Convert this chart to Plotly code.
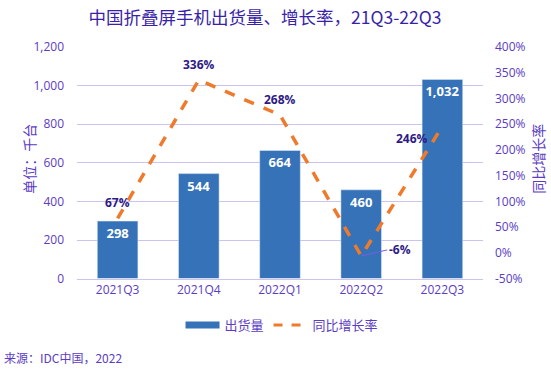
import plotly.graph_objects as go

quarters = ["2021Q3", "2021Q4", "2022Q1", "2022Q2", "2022Q3"]
shipments = [298, 544, 664, 460, 1032]
growth = [67, 336, 268, -6, 246]
growth_labels = ["67%", "336%", "268%", "-6%", "246%"]
left_ticks = [0, 200, 400, 600, 800, 1000, 1200]
right_ticks = [-50, 0, 50, 100, 150, 200, 250, 300, 350, 400]
right_tick_text = ["-50%", "0%", "50%", "100%", "150%", "200%", "250%", "300%", "350%", "400%"]

TICK = "#5B3CC4"
LABEL = "#2E1A87"
GRID = "#CBC3F2"
BLUE = "#3672B8"
ORANGE = "#F07A2B"
FONT = "Open Sans, Noto Sans CJK SC, sans-serif"
CJK = "Noto Sans CJK SC, sans-serif"

PL, PR, PT, PB = 77, 483, 47, 281  # plot area in pixels
def px_x(p):
    return (p - PL) / (PR - PL)
def px_y(p):
    return (PB - p) / (PB - PT)

fig = go.Figure()
fig.add_trace(go.Bar(
    x=quarters, y=shipments, name="出货量", showlegend=False,
    marker=dict(color=BLUE),
    text=[f"{v:,}" for v in shipments], textposition="inside",
    insidetextanchor="end",
    textfont=dict(color="white", size=13, family=FONT, weight="bold"),
))
fig.add_trace(go.Scatter(
    x=quarters, y=growth, name="同比增长率", yaxis="y2", mode="lines",
    line=dict(color=ORANGE, width=3.5, dash="dash"), showlegend=False,
))
# legend-only entries
fig.add_trace(go.Scatter(x=[None], y=[None], name="出货量", mode="lines",
                         line=dict(color=BLUE, width=7)))
fig.add_trace(go.Scatter(x=[None], y=[None], name="同比增长率", mode="lines",
                         line=dict(color=ORANGE, width=3, dash="dash")))

shifts = [(0, 16), (0, 15), (0, 15), None, (-30, -12)]
for q, g, lab, s in zip(quarters, growth, growth_labels, shifts):
    if s is None:
        fig.add_annotation(x=q, y=g, xref="x", yref="y2", text=lab,
                           showarrow=True, arrowhead=0, arrowwidth=1,
                           arrowcolor="#7A5CE0", ax=26, ay=-6,
                           xanchor="left", yanchor="middle",
                           font=dict(color=LABEL, size=12, family=FONT, weight="bold"))
    else:
        fig.add_annotation(x=q, y=g, xref="x", yref="y2", text=lab,
                           showarrow=False, xshift=s[0], yshift=s[1],
                           font=dict(color=LABEL, size=12, family=FONT, weight="bold"))

fig.update_layout(
    width=551, height=378,
    margin=dict(l=PL, r=551 - PR, t=PT, b=378 - PB),
    paper_bgcolor="white", plot_bgcolor="white",
    title=dict(text="中国折叠屏手机出货量、增长率，21Q3-22Q3", x=0.481, xanchor="center",
               y=1 - 18 / 378, yanchor="middle",
               font=dict(family=CJK, size=17.5, color="#3A1FA8")),
    bargap=0.5,
    showlegend=True,
    legend=dict(orientation="h", x=0.505, xanchor="center", yref="container",
                y=1 - 325 / 378, yanchor="middle", itemwidth=34,
                font=dict(family=CJK, size=13, color=TICK)),
    xaxis=dict(tickfont=dict(family=FONT, size=12, color=TICK), showgrid=False,
               showline=True, linecolor=GRID, ticks=""),
    yaxis=dict(range=[0, 1200], tickvals=left_ticks, tickformat=",",
               tickfont=dict(family=FONT, size=12, color=TICK), ticklabelstandoff=12,
               gridcolor=GRID, gridwidth=1, zeroline=False),
    yaxis2=dict(range=[-50, 400], tickvals=right_ticks, ticktext=right_tick_text,
                overlaying="y", side="right", showgrid=False, zeroline=False,
                tickfont=dict(family=FONT, size=12, color=TICK), ticklabelstandoff=11),
)
fig.add_annotation(text="单位：千台", xref="paper", yref="paper", x=px_x(29), y=px_y(160),
                   textangle=-90, showarrow=False, xanchor="center", yanchor="middle",
                   font=dict(family=CJK, size=14, color=TICK))
fig.add_annotation(text="同比增长率", xref="paper", yref="paper", x=px_x(538), y=px_y(160),
                   textangle=-90, showarrow=False, xanchor="center", yanchor="middle",
                   font=dict(family=CJK, size=14, color=TICK))
fig.add_annotation(text="来源：IDC中国，2022", xref="paper", yref="paper",
                   x=px_x(2), y=px_y(361),
                   xanchor="left", yanchor="middle", showarrow=False,
                   font=dict(family=CJK, size=12, color=TICK))
fig.write_html("out.html", config={"displayModeBar": False},
               post_script="document.body.style.margin='0';")
